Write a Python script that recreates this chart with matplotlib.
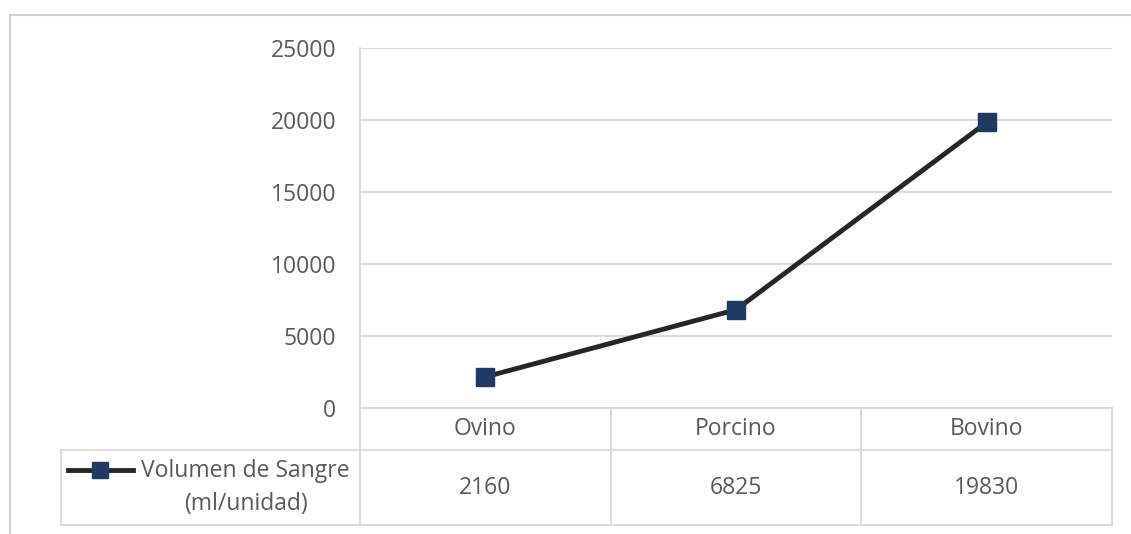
import matplotlib.pyplot as plt
from matplotlib.patches import Rectangle
from matplotlib.transforms import blended_transform_factory

# Data
categories = ["Ovino", "Porcino", "Bovino"]
volumen = [2160, 6825, 19830]
series_label = "Volumen de Sangre\n(ml/unidad)"
y_ticks = [0, 5000, 10000, 15000, 20000, 25000]

W, H = 1131, 534
plt.rcParams["font.family"] = ["Open Sans", "DejaVu Sans"]
text_color = "#595959"
grid_color = "#d9d9d9"
line_color = "#262626"
marker_color = "#1f3864"
fs = 16.5

fig = plt.figure(figsize=(W / 100, H / 100), dpi=100)

# outer chart border
fig.patches.append(Rectangle((10 / W, -0.01), 1.2, (H - 15) / H + 0.01,
                             transform=fig.transFigure, fill=False,
                             edgecolor="#d0d0d0", linewidth=1.5))

ax = fig.add_axes([360 / W, (H - 408) / H, 752 / W, 360 / H])
x = list(range(len(categories)))
ax.plot(x, volumen, color=line_color, linewidth=3.5, marker="s",
        markersize=13, markerfacecolor=marker_color,
        markeredgecolor=marker_color, zorder=3, clip_on=False)

ax.set_xlim(-0.5, len(categories) - 0.5)
ax.set_ylim(0, 25000)
ax.set_yticks(y_ticks)
ax.set_yticklabels([str(v) for v in y_ticks])
ax.tick_params(axis="y", length=0, pad=17, labelsize=fs, labelcolor=text_color)
ax.set_xticks([])
ax.yaxis.grid(True, color=grid_color, linewidth=1.3)
ax.set_axisbelow(True)
for side in ["top", "right", "bottom"]:
    ax.spines[side].set_visible(False)
ax.spines["left"].set_color(grid_color)
ax.spines["left"].set_linewidth(1.3)

# data table below the plot
tr = blended_transform_factory(ax.transData, ax.transAxes)
px = 1 / 360  # one pixel in axes-y units
row1_bot = -42 * px
row2_bot = -117 * px
left_col = -0.5 - 298 / 250

def hline(x0, x1, y):
    ax.plot([x0, x1], [y, y], transform=tr, color=grid_color,
            linewidth=1.3, clip_on=False)

def vline(xv, y0, y1):
    ax.plot([xv, xv], [y0, y1], transform=tr, color=grid_color,
            linewidth=1.3, clip_on=False)

hline(-0.5, len(categories) - 0.5, 0)
hline(left_col, len(categories) - 0.5, row1_bot)
hline(left_col, len(categories) - 0.5, row2_bot)
for b in range(len(categories) + 1):
    vline(b - 0.5, 0, row2_bot)
vline(left_col, row1_bot, row2_bot)

for i, (cat, val) in enumerate(zip(categories, volumen)):
    ax.text(i, row1_bot / 2, cat, transform=tr, ha="center", va="center",
            fontsize=fs, color=text_color)
    ax.text(i, (row1_bot + row2_bot) / 2, str(val), transform=tr,
            ha="center", va="center", fontsize=fs, color=text_color)

# legend key inside the table
mid2 = (row1_bot + row2_bot) / 2
ax.text(-0.5 - 10 / 250, mid2, series_label, transform=tr, ha="right",
        va="center", fontsize=fs, color=text_color, linespacing=1.45,
        multialignment="center")
key_y = row1_bot - 20 * px
ax.plot([left_col + 7 / 250, left_col + 72 / 250], [key_y, key_y], transform=tr,
        color=line_color, linewidth=3.5, clip_on=False)
ax.plot([left_col + 39 / 250], [key_y], transform=tr, marker="s",
        markersize=11, color=marker_color, clip_on=False)

fig.savefig("out.png", dpi=100)
